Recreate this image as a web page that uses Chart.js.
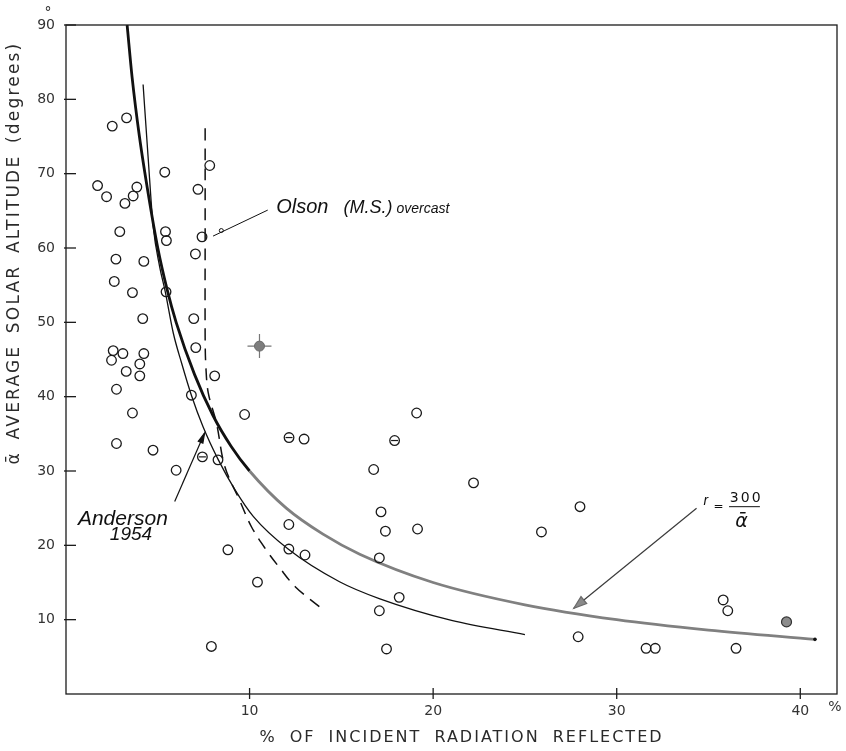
<!DOCTYPE html>
<html>
<head>
<meta charset="utf-8">
<script src="https://cdn.jsdelivr.net/npm/chart.js@4.4.0/dist/chart.umd.min.js"></script>
<style>
  html, body { margin: 0; padding: 0; background: #fff; overflow: hidden; }
  #wrap { width: 846px; height: 751px; position: relative; }
</style>
</head>
<body>
<div id="wrap"><canvas id="albedoChart"></canvas></div>
<script>
// tick labels
const xTickValues = [10, 20, 30, 40]
const yTickValues = [10, 20, 30, 40, 50, 60, 70, 80, 90]

// observations: % reflected vs mean solar altitude
const obsReflect = [1.72, 2.21, 2.52, 3.30, 3.21, 3.66, 3.86, 5.38, 2.93, 5.42, 5.47, 7.83, 7.19, 7.41, 7.05,
    2.72, 4.24, 2.63, 3.62, 5.45, 4.18, 6.96, 2.57, 2.48, 3.10, 4.24, 4.02, 3.28, 4.02, 7.07, 8.10, 2.75,
    6.83, 3.62, 9.73, 2.75, 4.74, 12.15, 12.97, 7.43, 8.28, 6.0, 19.1, 17.9, 16.76, 22.2, 17.16, 17.4,
    19.15, 25.9, 12.14, 12.14, 13.02, 17.07, 18.15, 17.07, 17.46, 8.82, 10.43, 7.92, 28.0, 35.8, 36.05,
    27.9, 31.6, 32.1, 36.5]
const obsAltitude = [68.4, 66.9, 76.4, 77.5, 66.0, 67.0, 68.2, 70.2, 62.2, 62.2, 61.0, 71.1, 67.9, 61.5, 59.2,
    58.5, 58.2, 55.5, 54.0, 54.1, 50.5, 50.5, 46.2, 44.9, 45.8, 45.8, 44.4, 43.4, 42.8, 46.6, 42.8, 41.0,
    40.2, 37.8, 37.6, 33.7, 32.8, 34.5, 34.3, 31.9, 31.5, 30.1, 37.8, 34.1, 30.2, 28.4, 24.5, 21.9,
    22.2, 21.8, 22.8, 19.5, 18.7, 18.3, 13.0, 11.2, 6.06, 19.4, 15.05, 6.4, 25.2, 12.65, 11.2,
    7.7, 6.15, 6.15, 6.15]

// circles with a bar through them
const barReflect = [12.15, 17.9, 7.43]
const barAltitude = [34.5, 34.1, 31.9]

// shaded observations
const crossReflect = [10.54]
const crossAltitude = [46.8]
const greyReflect = [39.25]
const greyAltitude = [9.7]

// r = 300 / alpha curve
const curveReflect = [3.33, 3.6, 4.0, 4.5, 5.0, 5.5, 6.0, 7.0, 8.0, 9.0, 10.0, 12.0, 14.0, 16.0, 20.0, 25.0, 30.0, 35.0, 40.8]
const curveAltitude = [90, 83, 75, 67, 60, 54.5, 50, 43, 37.5, 33.3, 30, 25, 21.5, 18.8, 15, 12, 10, 8.6, 7.35]

// Anderson 1954
const andersonReflect = [4.2, 4.47, 4.75, 5.1, 5.4, 5.85, 6.3, 6.83, 7.46, 8.3, 9.2, 10.2, 12.1, 14.9, 17.1, 21.0, 25.0]
const andersonAltitude = [82, 72.3, 62.9, 57.5, 54.2, 48.5, 44.5, 40.2, 36.0, 31.5, 27.5, 23.9, 19.5, 15.1, 12.8, 9.9, 8.0]

// Olson (M.S.) overcast
const olsonReflect = [7.58, 7.58, 7.58, 7.62, 7.75, 8.2, 8.65, 9.45, 10.1, 10.9, 11.6, 12.5, 13.8]
const olsonAltitude = [76.1, 62, 48, 44, 40.5, 36.4, 30.6, 26.1, 22.5, 19.4, 17.1, 14.4, 11.75]

const toXY = (xs, ys) => xs.map((v, i) => ({ x: v, y: ys[i] }))

const FONT = '"DejaVu Sans", sans-serif'
const HAND = '"Liberation Sans", sans-serif'

function arrowHead(ctx, fromX, fromY, toX, toY, len, half) {
    const ang = Math.atan2(toY - fromY, toX - fromX)
    const bx = toX - len * Math.cos(ang), by = toY - len * Math.sin(ang)
    const nx = -Math.sin(ang) * half, ny = Math.cos(ang) * half
    ctx.beginPath()
    ctx.moveTo(bx + nx, by + ny)
    ctx.lineTo(toX, toY)
    ctx.lineTo(bx - nx, by - ny)
    ctx.closePath()
    ctx.fill()
    ctx.stroke()
}

const paperDecor = {
    id: 'paperDecor',
    afterDatasetsDraw(chart) {
        const { ctx, chartArea: a, scales: { x, y } } = chart
        const P = (vx, vy) => [x.getPixelForValue(vx), y.getPixelForValue(vy)]
        const seg = (x1, y1, x2, y2) => { ctx.beginPath(); ctx.moveTo(x1, y1); ctx.lineTo(x2, y2); ctx.stroke() }
        ctx.save()

        // frame + tick marks
        ctx.strokeStyle = '#1c1c1c'
        ctx.lineWidth = 1.3
        ctx.strokeRect(a.left, a.top, a.right - a.left, a.bottom - a.top)
        x.ticks.forEach(t => { const px = x.getPixelForValue(t.value); seg(px, a.bottom - 6, px, a.bottom + 5) })
        y.ticks.forEach(t => { const py = y.getPixelForValue(t.value); seg(a.left - 2, py, a.left + 10, py) })

        // unit marks
        ctx.fillStyle = '#333'
        ctx.font = '14px ' + FONT
        ctx.textAlign = 'center'
        ctx.textBaseline = 'middle'
        ctx.fillText('°', a.left - 18, a.top - 12)
        ctx.fillText('%', a.right - 2, a.bottom + 13)

        // axis titles
        ctx.fillStyle = '#2a2a2a'
        ctx.font = '16px ' + FONT
        ctx.letterSpacing = '2px'
        ctx.wordSpacing = '6px'
        ctx.fillText('% OF INCIDENT RADIATION REFLECTED', a.left + (a.right - a.left) / 2 + 10, a.bottom + 44)
        ctx.save()
        ctx.translate(15, a.top + 228)
        ctx.rotate(-Math.PI / 2)
        ctx.font = '17px ' + FONT
        ctx.letterSpacing = '2.2px'
        ctx.wordSpacing = '4px'
        ctx.fillText('ᾱ AVERAGE SOLAR ALTITUDE (degrees)', 0, 0)
        ctx.restore()
        ctx.letterSpacing = '0px'
        ctx.wordSpacing = '0px'

        // Olson label and pointer
        ctx.fillStyle = '#111'
        ctx.strokeStyle = '#111'
        ctx.lineWidth = 1
        ctx.textAlign = 'left'
        ctx.textBaseline = 'alphabetic'
        let [ox, oy] = P(11.45, 64.7)
        ctx.font = 'italic 20px ' + HAND
        ctx.fillText('Olson', ox, oy)
        ox += ctx.measureText('Olson').width + 15
        ctx.font = 'italic 18px ' + HAND
        ctx.fillText('(M.S.)', ox, oy)
        ox += ctx.measureText('(M.S.)').width + 4
        ctx.font = 'italic 14px ' + HAND
        ctx.fillText('overcast', ox, oy)
        const [o1x, o1y] = P(10.99, 65.1)
        const [o2x, o2y] = P(8.01, 61.6)
        seg(o1x, o1y, o2x, o2y)
        const [ocx, ocy] = P(8.46, 62.35)
        ctx.beginPath(); ctx.arc(ocx, ocy, 2, 0, Math.PI * 2); ctx.stroke()

        // Anderson label and pointer
        ctx.font = 'italic 21px ' + HAND
        let [ax, ay] = P(0.65, 22.75)
        ctx.fillText('Anderson', ax, ay)
        ctx.font = 'italic 19px ' + HAND
        ;[ax, ay] = P(2.39, 20.7)
        ctx.fillText('1954', ax, ay)
        const [a1x, a1y] = P(5.92, 25.9)
        const [a2x, a2y] = P(7.55, 35.1)
        ctx.lineWidth = 1.2
        seg(a1x, a1y, a2x, a2y)
        arrowHead(ctx, a1x, a1y, a2x, a2y, 10, 2.5)

        // r = 300 / alpha label and pointer
        ctx.textAlign = 'center'
        ctx.textBaseline = 'middle'
        ctx.font = 'italic 14px ' + HAND
        let [rx, ry] = P(34.85, 25.4)
        ctx.fillText('r', rx, ry - 4)
        ctx.font = '12px ' + FONT
        ;[rx, ry] = P(35.55, 25.2)
        ctx.fillText('=', rx, ry)
        ctx.textBaseline = 'alphabetic'
        ctx.font = '14px ' + FONT
        ctx.letterSpacing = '2px'
        ;[rx, ry] = P(37.0, 25.85)
        ctx.fillText('300', rx + 1, ry)
        ctx.letterSpacing = '0px'
        const [b1x, by] = P(36.12, 25.2)
        const [b2x] = P(37.8, 25.2)
        ctx.lineWidth = 1
        seg(b1x, by, b2x, by)
        ctx.font = 'italic 19px ' + FONT
        ;[rx, ry] = P(36.8, 22.4)
        ctx.fillText('ᾱ', rx, ry)
        const [r1x, r1y] = P(34.35, 24.99)
        const [r2x, r2y] = P(27.66, 11.53)
        ctx.strokeStyle = '#3a3a3a'
        ctx.lineWidth = 1.2
        seg(r1x, r1y, r2x, r2y)
        ctx.fillStyle = '#8a8a8a'
        ctx.strokeStyle = '#6a6a6a'
        arrowHead(ctx, r1x, r1y, r2x, r2y, 13, 4.5)

        ctx.restore()
    }
}

const ctx = document.getElementById('albedoChart').getContext('2d')

new Chart(ctx, {
    type: 'scatter',
    data: {
        datasets: [
            {
                label: 'observed',
                data: toXY(obsReflect, obsAltitude),
                pointRadius: 4.8,
                pointBorderWidth: 1.3,
                pointBorderColor: '#1a1a1a',
                pointBackgroundColor: 'rgba(255,255,255,0)',
            },
            {
                label: 'barred',
                data: toXY(barReflect, barAltitude),
                pointStyle: 'line',
                pointRadius: 3.5,
                pointBorderWidth: 1.2,
                pointBorderColor: '#1a1a1a',
            },
            {
                label: 'shaded',
                data: toXY(greyReflect, greyAltitude),
                pointRadius: 5,
                pointBorderWidth: 1.2,
                pointBorderColor: '#333',
                pointBackgroundColor: '#8c8c8c',
            },
            {
                label: 'cross dot',
                data: toXY(crossReflect, crossAltitude),
                pointRadius: 5,
                pointBorderWidth: 1,
                pointBorderColor: '#6a6a6a',
                pointBackgroundColor: '#7d7d7d',
            },
            {
                label: 'cross',
                data: toXY(crossReflect, crossAltitude),
                pointStyle: 'cross',
                pointRadius: 12,
                pointBorderWidth: 1.2,
                pointBorderColor: '#777',
            },
            {
                label: 'r = 300/alpha',
                data: toXY(curveReflect, curveAltitude),
                showLine: true,
                pointRadius: c => c.dataIndex === curveReflect.length - 1 ? 1.8 : 0,
                pointBackgroundColor: '#111',
                pointBorderWidth: 0,
                borderWidth: 2.8,
                borderColor: '#111',
                cubicInterpolationMode: 'monotone',
                segment: {
                    borderColor: c => c.p0.parsed.x >= 10 ? '#808080' : '#111',
                },
            },
            {
                label: 'Anderson 1954',
                data: toXY(andersonReflect, andersonAltitude),
                showLine: true,
                pointRadius: 0,
                borderWidth: 1.3,
                borderColor: '#111',
                cubicInterpolationMode: 'monotone',
            },
            {
                label: 'Olson overcast',
                data: toXY(olsonReflect, olsonAltitude),
                showLine: true,
                pointRadius: 0,
                borderWidth: 1.5,
                borderColor: '#111',
                borderDash: [12, 8],
                tension: 0.35,
            },
        ]
    },
    options: {
        responsive: true,
        maintainAspectRatio: false,
        animation: false,
        events: [],
        layout: { autoPadding: false, padding: { top: 25, right: 9, left: 0, bottom: 0 } },
        scales: {
            x: {
                type: 'linear',
                min: 0,
                max: 42,
                afterBuildTicks: s => { s.ticks = xTickValues.map(v => ({ value: v })) },
                afterFit: s => { s.height = 57; s.paddingLeft = 0; s.paddingRight = 0 },
                grid: { display: false, drawTicks: false },
                border: { display: false },
                ticks: {
                    padding: 9,
                    color: '#333',
                    font: { family: FONT, size: 14 },
                    maxRotation: 0,
                },
            },
            y: {
                type: 'linear',
                min: 0,
                max: 90,
                afterBuildTicks: s => { s.ticks = yTickValues.map(v => ({ value: v })) },
                afterFit: s => { s.width = 66; s.paddingTop = 0; s.paddingBottom = 0 },
                grid: { display: false, drawTicks: false },
                border: { display: false },
                ticks: {
                    padding: 11,
                    color: '#333',
                    font: { family: FONT, size: 14 },
                },
            },
        },
        plugins: {
            legend: { display: false },
            tooltip: { enabled: false },
        },
    },
    plugins: [paperDecor],
});
</script>
</body>
</html>
